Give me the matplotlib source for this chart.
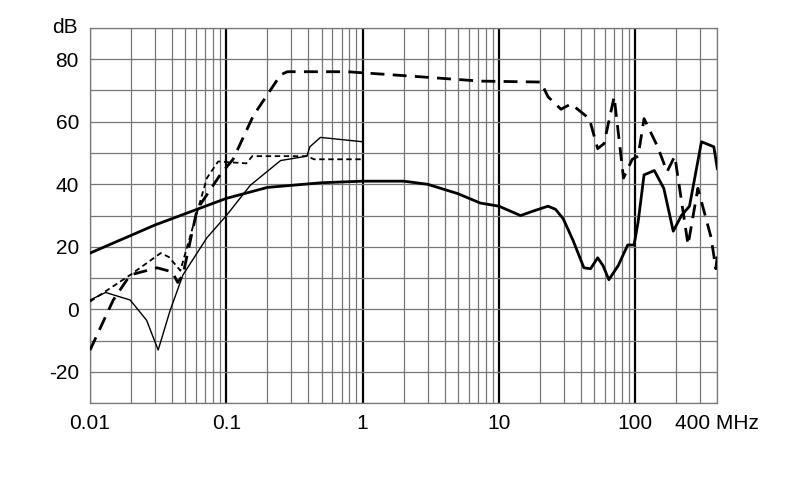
import numpy as np
import matplotlib.pyplot as plt

plt.rcParams['font.family'] = ['Liberation Sans', 'DejaVu Sans']

# thick solid
f_a = [0.01, 0.03, 0.1, 0.2, 0.5, 1, 2, 3, 5, 7.3, 10, 14.4, 18, 22.9, 26, 29.6, 35, 42, 47, 53, 58, 64, 75, 88, 98, 105, 116, 138, 162, 190, 218, 250, 306, 377, 400]
db_a = [18, 27, 35.5, 39, 40.5, 41, 41, 40, 37, 34, 33, 30, 31.5, 33, 32, 29, 22, 13.3, 13, 16.5, 14, 9.5, 14, 20.6, 20.6, 28, 43, 44.4, 38.7, 25, 30, 33, 53.6, 52, 45]
# thick dashed
f_b = [0.01, 0.0148, 0.0197, 0.031, 0.04, 0.044, 0.048, 0.061, 0.09, 0.112, 0.158, 0.25, 0.28, 0.77, 2.25, 7.3, 20.3, 22.9, 28.5, 33.8, 46, 53, 59, 70, 82, 95, 105, 116, 146, 171, 195, 244, 288, 360, 390, 400]
db_b = [-13, 3, 11, 13.3, 12, 8.6, 11, 32, 43, 48, 62, 75, 76, 76, 74.6, 73, 72.7, 68, 64, 65.7, 61, 51.4, 53, 68, 42, 48, 49, 61, 52, 44, 49, 20.6, 38.7, 23, 13, 17]
# thin solid
f_c = [0.01, 0.013, 0.0197, 0.026, 0.0316, 0.0387, 0.048, 0.072, 0.1, 0.15, 0.25, 0.39, 0.41, 0.49, 1.0]
db_c = [3, 5.4, 3, -3.5, -13, -0.3, 11, 22.9, 30, 39.7, 47.6, 49, 52, 55, 53.6]
# thin short dashed
f_d = [0.01, 0.0197, 0.033, 0.038, 0.046, 0.052, 0.072, 0.087, 0.14, 0.155, 0.39, 0.44, 1.0]
db_d = [2.5, 11, 18, 16.7, 12.4, 20.6, 42, 47.3, 46.7, 49, 49, 48, 48]

x_ticks = [0.01, 0.1, 1, 10, 100, 400]
x_labels = ['0.01', '0.1', '1', '10', '100', '400 MHz']
y_ticks = [-20, 0, 20, 40, 60, 80]
y_labels = ['-20', '0', '20', '40', '60', '80']

fig = plt.figure(figsize=(7.9, 4.99), dpi=100)
ax = fig.add_axes([0.114, 0.192, 0.794, 0.752])
ax.set_xscale('log')
ax.set_xlim(0.01, 400)
ax.set_ylim(-30, 90)

# grid
for dec in [0.01, 0.1, 1, 10, 100]:
    for m in range(1, 10):
        v = dec * m
        if v > 400:
            break
        if m == 1:
            ax.axvline(v, color='black', lw=1.6, zorder=1)
        else:
            ax.axvline(v, color='#777777', lw=0.9, zorder=1)
for y in range(-30, 91, 10):
    ax.axhline(y, color='#777777', lw=0.9, zorder=1)

ax.plot(f_a, db_a, color='black', lw=2.0, zorder=3)
ax.plot(f_b, db_b, color='black', lw=2.0, ls=(0, (5, 3)), zorder=3)
ax.plot(f_c, db_c, color='black', lw=1.0, zorder=3)
ax.plot(f_d, db_d, color='black', lw=1.3, ls=(0, (3, 2)), zorder=3)

for s in ax.spines.values():
    s.set_color('#777777')
    s.set_linewidth(0.9)
ax.minorticks_off()
ax.set_xticks(x_ticks)
ax.set_xticklabels(x_labels)
ax.set_yticks(y_ticks)
ax.set_yticklabels(y_labels)
ax.tick_params(length=0, labelsize=15, pad=8)
ax.text(-0.02, 1.0, 'dB', transform=ax.transAxes, ha='right', va='center', fontsize=15)
fig.savefig('out.png')
